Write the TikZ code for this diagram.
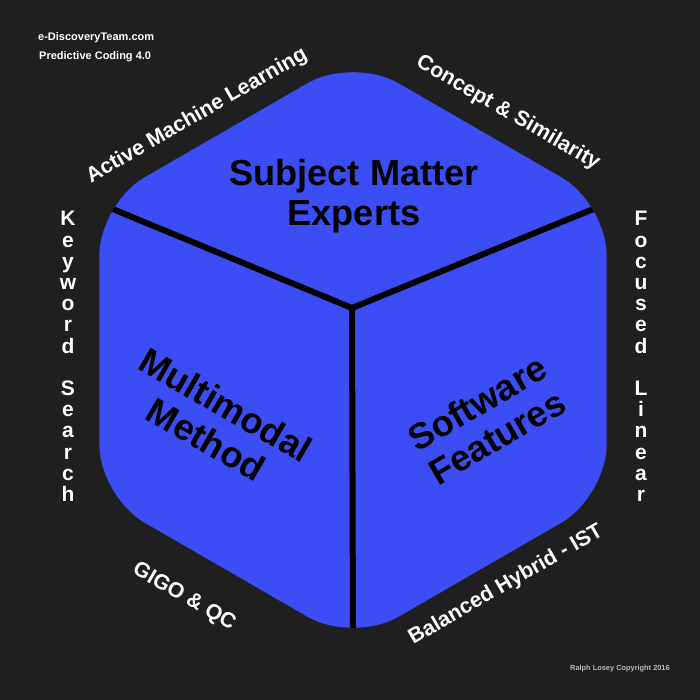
\documentclass[tikz,border=0pt]{standalone}
\usepackage{fontspec}
\setmainfont{Liberation Sans}
\definecolor{bgdark}{RGB}{31,31,31}
\definecolor{cubeblue}{RGB}{59,78,245}
\definecolor{copygray}{RGB}{185,185,185}
\tikzset{
  facetext/.style={text=black, align=center, font=\fontsize{36.2}{39.5}\selectfont\bfseries},
  sidetext/.style={text=white, font=\fontsize{21.3}{24}\selectfont\bfseries},
  vertext/.style={text=white, align=center, font=\fontsize{21}{21.2}\selectfont\bfseries},
  smalltext/.style={text=white, anchor=base west, font=\fontsize{11}{13}\selectfont\bfseries},
  edgeline/.style={line width=6pt, black}
}
\begin{document}
\begin{tikzpicture}[x=1pt,y=-1pt]
\fill[bgdark] (0,0) rectangle (700,700);
\useasboundingbox (0,0) rectangle (700,700);
% hexagon vertices
\coordinate (T) at (353,57);
\coordinate (UR) at (606.7,203.5);
\coordinate (LR) at (606.7,496.5);
\coordinate (B) at (353,643);
\coordinate (LL) at (99.3,496.5);
\coordinate (UL) at (99.3,203.5);
\coordinate (C) at (352,308);
\fill[cubeblue, rounded corners=52pt] (T) -- (UR) -- (LR) -- (B) -- (LL) -- (UL) -- cycle;
\begin{scope}
\clip[rounded corners=52pt] (T) -- (UR) -- (LR) -- (B) -- (LL) -- (UL) -- cycle;
\draw[edgeline] (C) -- (UL);
\draw[edgeline] (C) -- (UR);
\draw[edgeline] (C) -- (B);
\end{scope}
% face labels
\node[facetext] (sme) at (354,196) {Subject Matter\\Experts};
\node[facetext, rotate=-30] (mm) at (216,422) {Multimodal\\Method};
\node[facetext, rotate=30] (sf) at (487,420) {Software\\Features};
% side labels
\node[sidetext, rotate=30] (aml) at (197,116) {Active Machine Learning};
\node[sidetext, rotate=-30] (cs) at (508,113) {Concept \& Similarity};
\node[sidetext, rotate=-30] (gigo) at (184,597) {GIGO \& QC};
\node[sidetext, rotate=30] (bh) at (506,585) {Balanced Hybrid - IST};
\node[vertext] (kw) at (68,356.5) {K\\e\\y\\w\\o\\r\\d\\~\\S\\e\\a\\r\\c\\h};
\node[vertext] (fl) at (641,356.5) {F\\o\\c\\u\\s\\e\\d\\~\\L\\i\\n\\e\\a\\r};
% corner texts
\node[smalltext, inner sep=0pt] (site) at (38,41) {e-DiscoveryTeam.com};
\node[smalltext, inner sep=0pt] (pc) at (39,60) {Predictive Coding 4.0};
\node[anchor=base west, inner sep=0pt, text=copygray, font=\fontsize{7.4}{9}\selectfont\bfseries] (copy) at (570,670.5) {Ralph Losey Copyright 2016};
\end{tikzpicture}
\end{document}
